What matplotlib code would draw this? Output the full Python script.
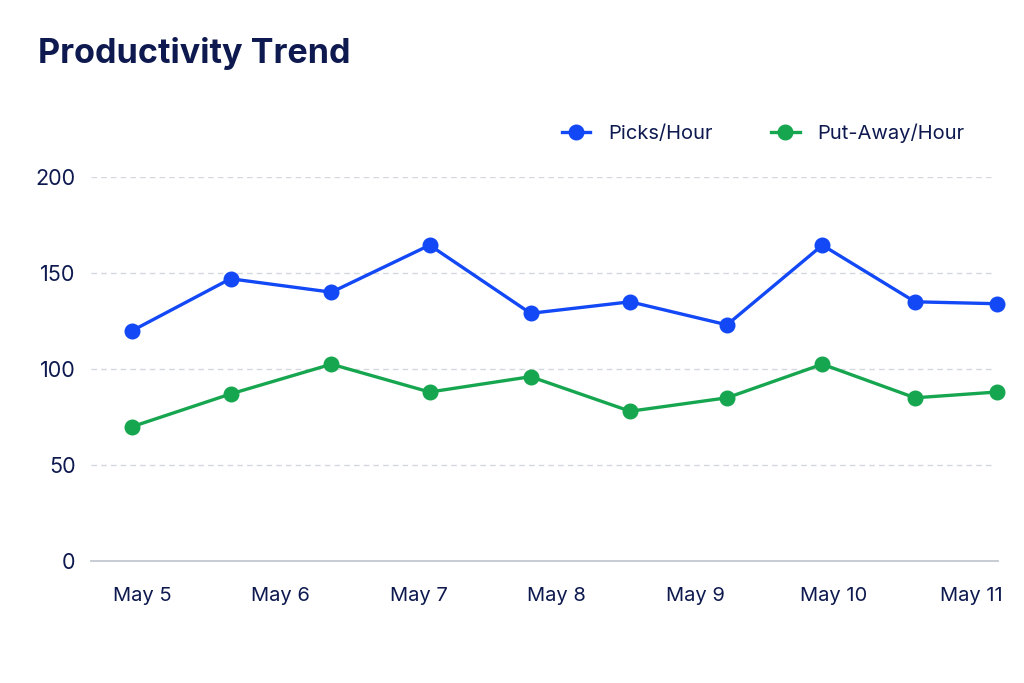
import numpy as np
import matplotlib
matplotlib.use("Agg")
import matplotlib.pyplot as plt

plt.rcParams['font.family'] = ['Inter', 'DejaVu Sans']

# data (x in days after May 5)
days = [-0.07, 0.64, 1.37, 2.08, 2.81, 3.53, 4.23, 4.92, 5.59, 6.18]
picks = [120, 147, 140, 164.5, 129, 135, 123, 164.5, 135, 134]
putaway = [70, 87, 102.5, 88, 96, 78, 85, 102.5, 85, 88]
day_labels = ["May 5", "May 6", "May 7", "May 8", "May 9", "May 10", "May 11"]
yticks = [0, 50, 100, 150, 200]

navy = '#0e1a4f'
blue = '#1248f5'
green = '#17a650'

fig = plt.figure(figsize=(10.24, 6.83), dpi=100)
ax = fig.add_axes([91/1024, 1 - 561/683, (998 - 91)/1024, (561 - 177)/683])

ax.plot(days, picks, color=blue, lw=2.4, marker='o', ms=10.5, label='Picks/Hour', clip_on=False, zorder=3)
ax.plot(days, putaway, color=green, lw=2.4, marker='o', ms=10.5, label='Put-Away/Hour', clip_on=False, zorder=3)

ax.set_ylim(0, 200)
ax.set_xlim(-0.369, 6.19)
ax.set_yticks(yticks)
ax.set_xticks(range(len(day_labels)))
ax.set_xticklabels(day_labels)

for v in yticks[1:]:
    ax.axhline(v, xmin=0, xmax=0.993, color='#d4d7dd', lw=1, ls=(0, (4, 3)), zorder=1)

for s in ['top', 'right', 'left']:
    ax.spines[s].set_visible(False)
ax.spines['bottom'].set_color('#c3c7d0')
ax.spines['bottom'].set_linewidth(1.3)
ax.tick_params(length=0, colors=navy)
ax.tick_params(axis='x', pad=19, labelsize=14.5)
ax.tick_params(axis='y', pad=11, labelsize=15.5)

fig.text(38/1024, 1 - 63/683, 'Productivity Trend', fontsize=24.6, fontweight='bold', color=navy)

leg = fig.legend(loc='center left', bbox_to_anchor=(544/1024, 1 - 133/683), ncol=2, frameon=False,
                 fontsize=14.5, handlelength=1.4, handletextpad=0.9, columnspacing=2.9)
for t in leg.get_texts():
    t.set_color(navy)

fig.savefig('out.png', dpi=100, facecolor='white')
